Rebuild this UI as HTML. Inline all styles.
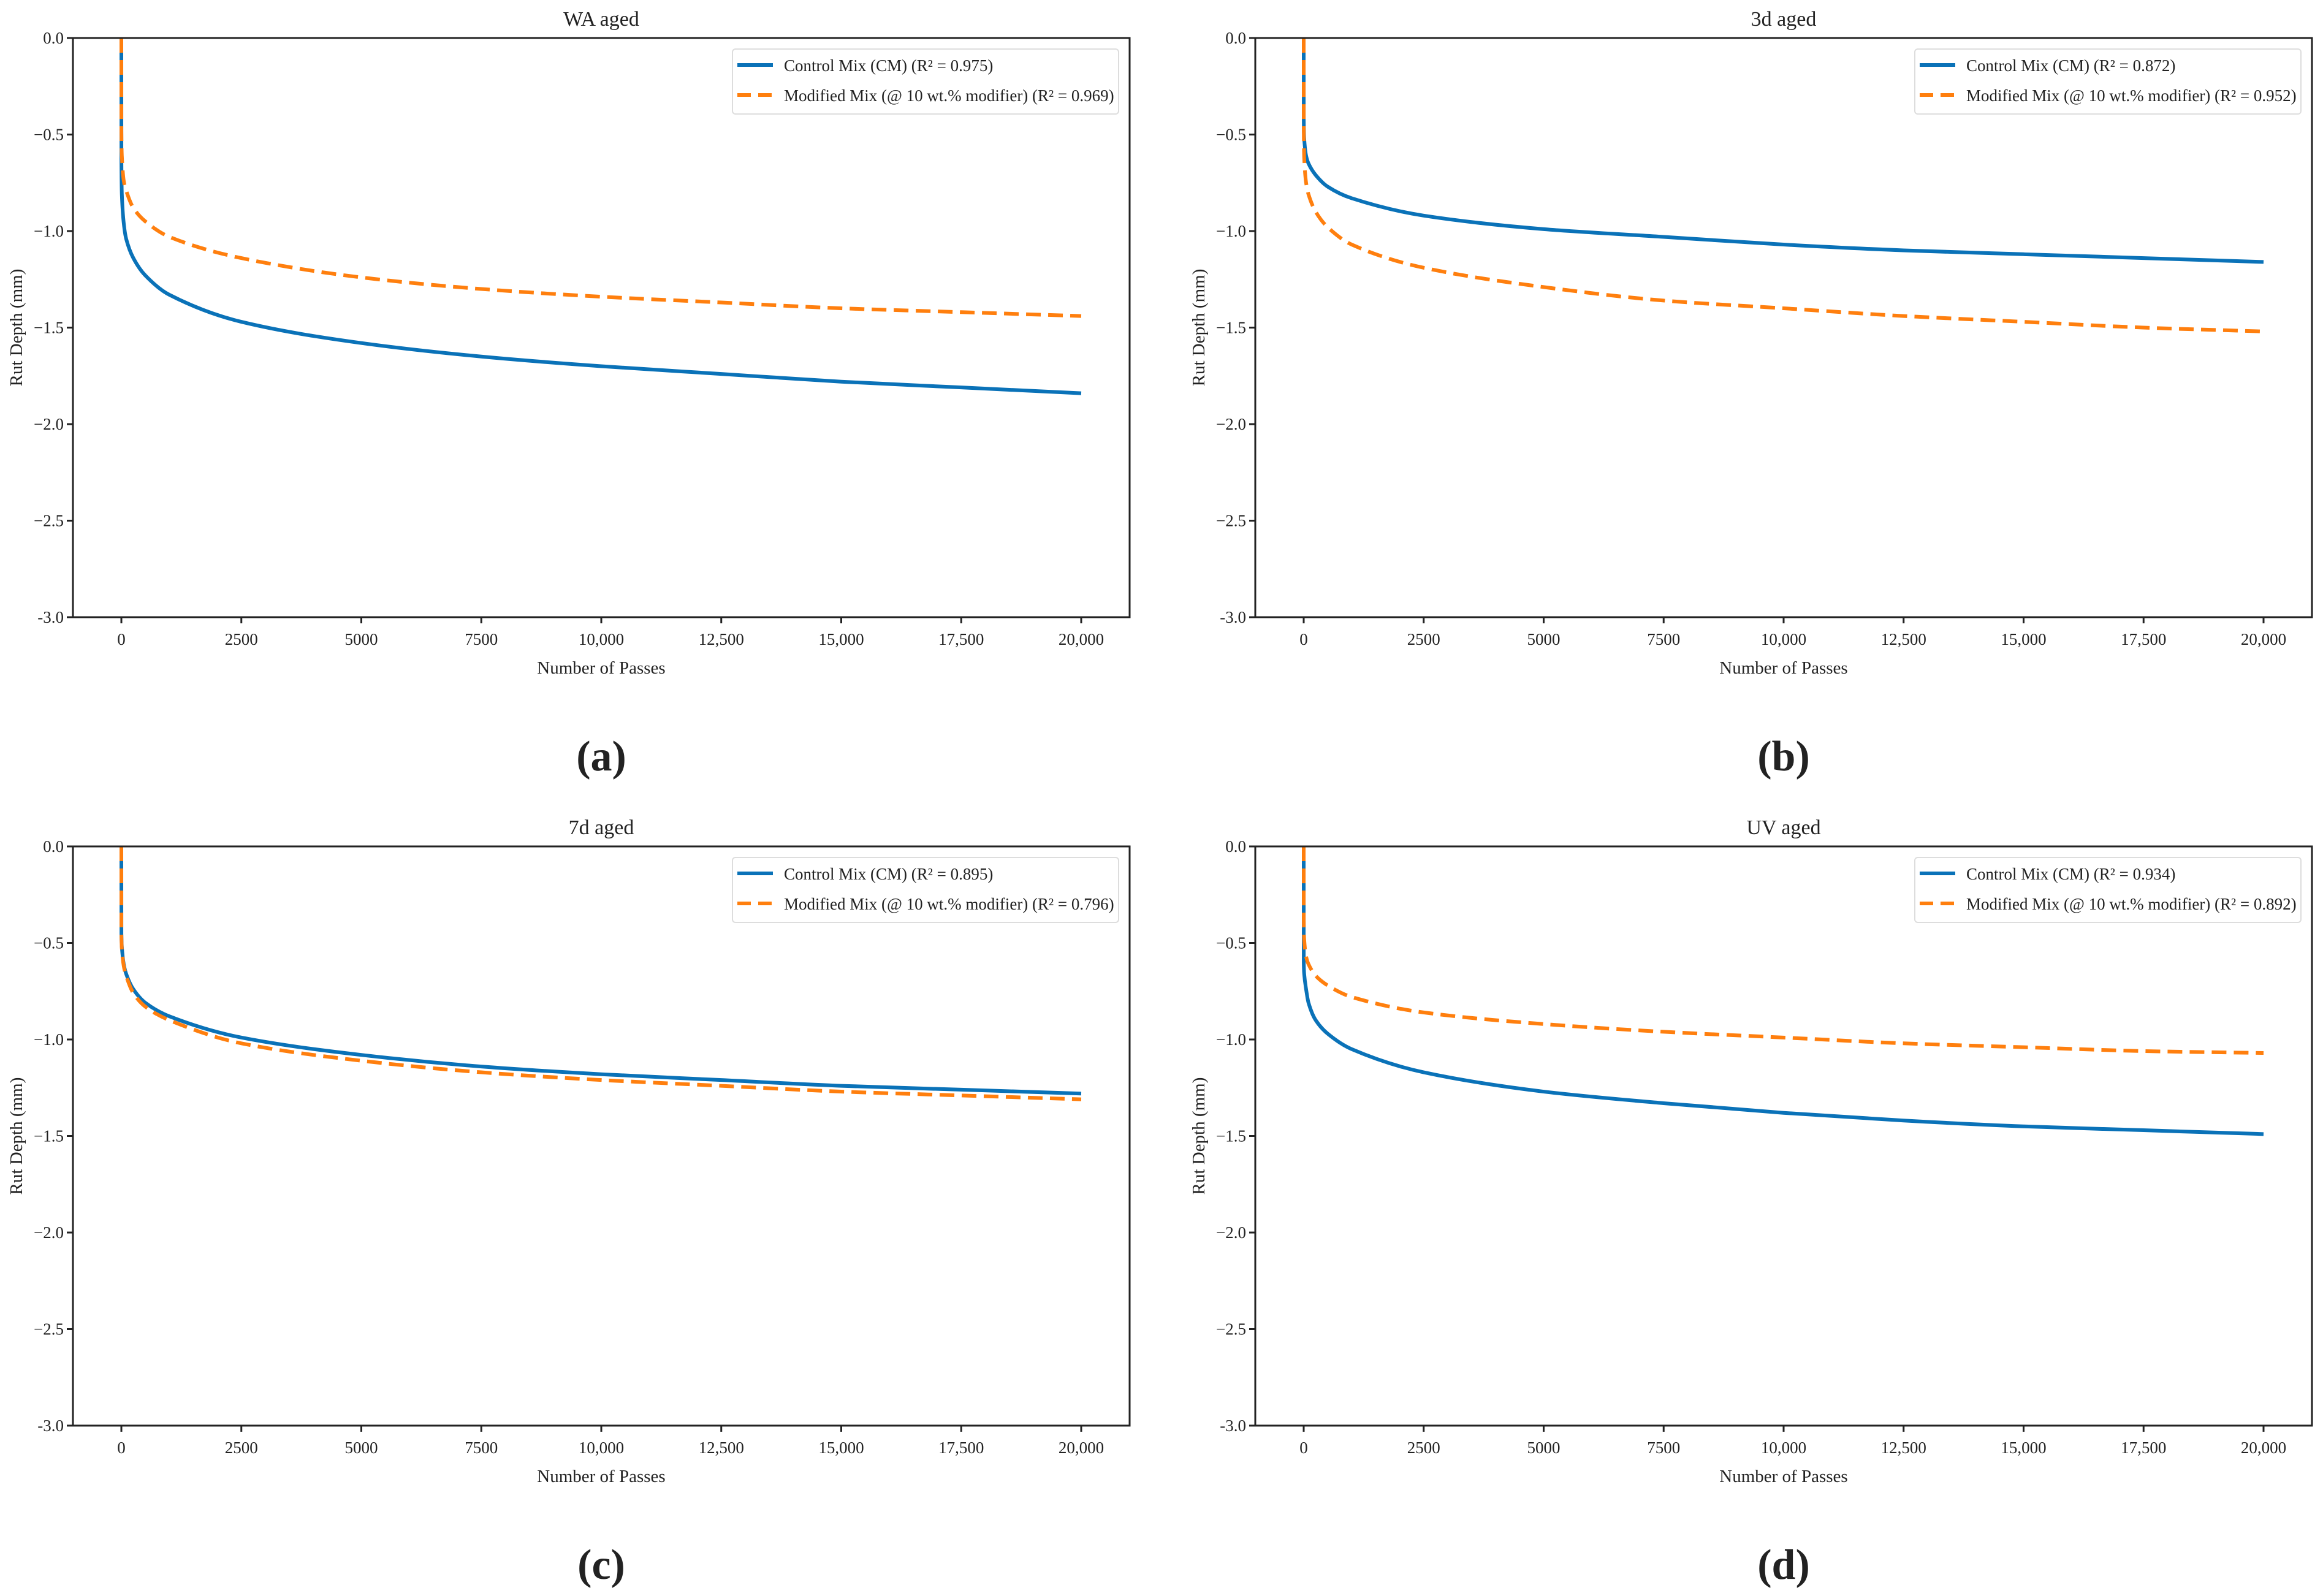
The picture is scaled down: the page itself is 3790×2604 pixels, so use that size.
<!DOCTYPE html>
<html><head><meta charset="utf-8"><style>
html,body{margin:0;padding:0;background:#fff}
svg{display:block}
text{font-family:"Liberation Serif",serif;fill:#222}
</style></head><body>
<svg id="fig" width="3790" height="2604" viewBox="0 0 3790 2604" xmlns="http://www.w3.org/2000/svg"></svg>
<script>
const passes = [0, 1, 10, 50, 100, 250, 500, 1000, 2500, 5000, 7500, 10000, 12500, 15000, 17500, 20000];
const waControl  = [0, -0.63, -0.81, -0.96, -1.04, -1.14, -1.23, -1.33, -1.47, -1.58, -1.65, -1.70, -1.74, -1.78, -1.81, -1.84];
const waModified = [0, -0.48, -0.61, -0.74, -0.79, -0.88, -0.95, -1.03, -1.14, -1.24, -1.30, -1.34, -1.37, -1.40, -1.42, -1.44];
const d3Control  = [0, -0.42, -0.52, -0.61, -0.65, -0.71, -0.77, -0.83, -0.92, -0.99, -1.03, -1.07, -1.10, -1.12, -1.14, -1.16];
const d3Modified = [0, -0.47, -0.62, -0.75, -0.81, -0.90, -0.98, -1.07, -1.19, -1.29, -1.36, -1.40, -1.44, -1.47, -1.50, -1.52];
const d7Control  = [0, -0.45, -0.52, -0.61, -0.66, -0.74, -0.81, -0.88, -0.99, -1.08, -1.14, -1.18, -1.21, -1.24, -1.26, -1.28];
const d7Modified = [0, -0.45, -0.53, -0.62, -0.67, -0.76, -0.83, -0.90, -1.02, -1.11, -1.17, -1.21, -1.24, -1.27, -1.29, -1.31];
const uvControl  = [0, -0.60, -0.66, -0.74, -0.81, -0.90, -0.97, -1.05, -1.17, -1.27, -1.33, -1.38, -1.42, -1.45, -1.47, -1.49];
const uvModified = [0, -0.38, -0.48, -0.57, -0.61, -0.67, -0.72, -0.78, -0.86, -0.92, -0.96, -0.99, -1.02, -1.04, -1.06, -1.07];
const xTicks = [0, 2500, 5000, 7500, 10000, 12500, 15000, 17500, 20000];
const xTickLabels = ["0","2500","5000","7500","10,000","12,500","15,000","17,500","20,000"];
const yTicks = [0, -0.5, -1, -1.5, -2, -2.5, -3];
const yTickLabels = ["0.0","\u22120.5","\u22121.0","\u22121.5","\u22122.0","\u22122.5","-3.0"];
const titles = ["WA aged","3d aged","7d aged","UV aged"];
const letters = ["(a)","(b)","(c)","(d)"];
const r2Control = ["0.975","0.872","0.895","0.934"];
const r2Modified = ["0.969","0.952","0.796","0.892"];
const controlSeries = [waControl, d3Control, d7Control, uvControl];
const modifiedSeries = [waModified, d3Modified, d7Modified, uvModified];

const NS = "http://www.w3.org/2000/svg";
const svg = document.getElementById("fig");
function mk(tag, attrs, parent){ const e=document.createElementNS(NS,tag); for(const k in attrs) e.setAttribute(k,attrs[k]); (parent||svg).appendChild(e); return e; }
// monotone cubic (Fritsch-Carlson) path through pixel points
function smoothPath(P){
  const n=P.length, d=[], m=[];
  for(let i=0;i<n-1;i++) d.push((P[i+1][1]-P[i][1])/(P[i+1][0]-P[i][0]));
  m[0]=d[0]; m[n-1]=d[n-2];
  for(let i=1;i<n-1;i++){ m[i]=(d[i-1]*d[i]<=0)?0:2/(1/d[i-1]+1/d[i]); }
  let s="M"+P[0][0].toFixed(2)+","+P[0][1].toFixed(2);
  for(let i=0;i<n-1;i++){
    const h=P[i+1][0]-P[i][0];
    s+="C"+(P[i][0]+h/3).toFixed(2)+","+(P[i][1]+m[i]*h/3).toFixed(2)+" "+(P[i+1][0]-h/3).toFixed(2)+","+(P[i+1][1]-m[i+1]*h/3).toFixed(2)+" "+P[i+1][0].toFixed(2)+","+P[i+1][1].toFixed(2);
  }
  return s;
}
const BLUE="#0a72b8", ORANGE="#ff7f0e";
const offs=[[0,0],[1929,0],[0,1319],[1929,1319]];
const slugs=["wa","3d","7d","uv"];
for(let p=0;p<4;p++){
  const ox=offs[p][0], oy=offs[p][1];
  const L=119+ox, R=1843+ox, T=62+oy, B=1007+oy;
  const xs=v=>L+(v-(-1009))/(22018)*(R-L);
  const ys=v=>T+(0-v)/3*(B-T);
  const g=mk("g",{});
  
  
  const t=mk("text",{x:(L+R)/2,y:T-20,"font-size":34,"text-anchor":"middle"},g); t.textContent=titles[p];
  
  
  const clipId="clip"+p;
  const cp=mk("clipPath",{id:clipId},g); mk("rect",{x:L,y:T,width:R-L,height:B-T},cp);
  const mkPath=(arr,color,dash,name)=>{
    const pts=arr.map((v,i)=>[xs(passes[i]),ys(v)]);
    const a={d:smoothPath(pts),fill:"none",stroke:color,"stroke-width":6,"clip-path":"url(#"+clipId+")"};
    if(dash) a["stroke-dasharray"]="24,12";
    const e=mk("path",a,g);
    
    
  };
  mkPath(controlSeries[p],BLUE,false,"control-mix-line");
  mkPath(modifiedSeries[p],ORANGE,true,"modified-mix-line");
  const fr=mk("rect",{x:L,y:T,width:R-L,height:B-T,fill:"none",stroke:"#222","stroke-width":3},g);
  
  
  xTicks.forEach((v,i)=>{
    const x=xs(v);
    mk("line",{x1:x,x2:x,y1:B,y2:B+10,stroke:"#222","stroke-width":3},g);
    const tl=mk("text",{x:x,y:B+45,"font-size":27,"text-anchor":"middle"},g); tl.textContent=xTickLabels[i];
    
    
  });
  yTicks.forEach((v,i)=>{
    const y=ys(v);
    mk("line",{x1:L-10,x2:L,y1:y,y2:y,stroke:"#222","stroke-width":3},g);
    const tl=mk("text",{x:L-15,y:y+9,"font-size":27,"text-anchor":"end"},g); tl.textContent=yTickLabels[i];
    
    
  });
  const xl=mk("text",{x:(L+R)/2,y:B+92,"font-size":29,"text-anchor":"middle"},g); xl.textContent="Number of Passes";
  
  
  const yl=mk("text",{x:0,y:0,"font-size":29,"text-anchor":"middle",transform:"translate("+(L-83)+","+((T+B)/2)+") rotate(-90)"},g); yl.textContent="Rut Depth (mm)";
  
  
  const lg=mk("g",{},g);
  
  
  mk("rect",{x:L+1076,y:T+18,width:630,height:106,rx:5,fill:"#fff",stroke:"#ddd","stroke-width":2},lg);
  mk("line",{x1:L+1084,x2:L+1142,y1:T+44,y2:T+44,stroke:BLUE,"stroke-width":6},lg);
  const l1=mk("text",{x:L+1160,y:T+54,"font-size":27},lg); l1.textContent="Control Mix (CM) (R\u00b2 = "+r2Control[p]+")";
  
  
  mk("line",{x1:L+1084,x2:L+1142,y1:T+93,y2:T+93,stroke:ORANGE,"stroke-width":6,"stroke-dasharray":"22,12"},lg);
  const l2=mk("text",{x:L+1160,y:T+103,"font-size":27},lg); l2.textContent="Modified Mix (@ 10 wt.% modifier) (R\u00b2 = "+r2Modified[p]+")";
  
  
  const pl=mk("text",{x:(L+R)/2,y:B+250,"font-size":70,"font-weight":"bold","text-anchor":"middle"},g); pl.textContent=letters[p];
  
  
}
</script>
</body></html>
